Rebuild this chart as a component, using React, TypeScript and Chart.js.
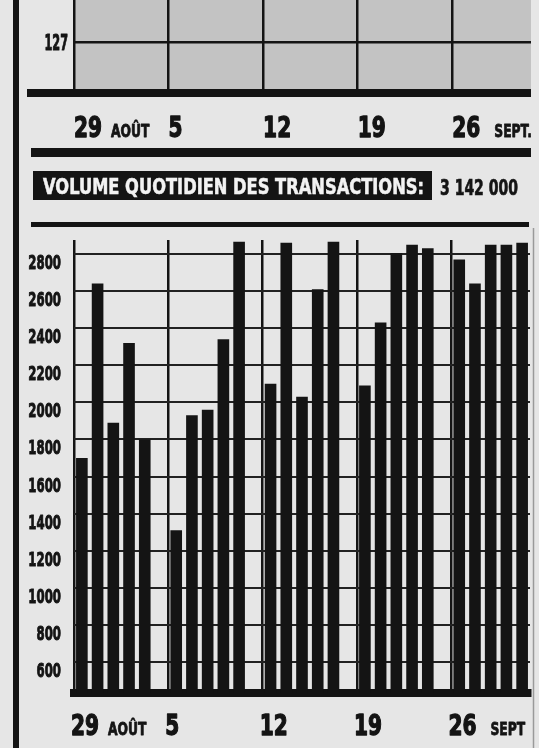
import React, { useEffect, useRef } from "react";
import { Chart, registerables } from "chart.js";

Chart.register(...registerables);

// ---- data ----
const weekStartDays = ["29", "5", "12", "19", "26"];
const firstMonth = "AOÛT";
const lastMonthTop = "SEPT.";
const lastMonthBottom = "SEPT";
const indexTicks = [127];
const volumeTicks = [600, 800, 1000, 1200, 1400, 1600, 1800, 2000, 2200, 2400, 2600, 2800];
const weekOfAug29 = [1700, 2640, 1890, 2320, 1800];
const weekOfSep5 = [1310, 1930, 1960, 2340, 2865];
const weekOfSep12 = [2100, 2860, 2030, 2610, 2865];
const weekOfSep19 = [2090, 2430, 2805, 2850, 2830];
const weekOfSep26 = [2770, 2640, 2850, 2850, 2860];
const weeks = [weekOfAug29, weekOfSep5, weekOfSep12, weekOfSep19, weekOfSep26];
const titleText = "VOLUME QUOTIDIEN DES TRANSACTIONS:";
const dailyVolumeText = "3 142 000";

// ---- helpers ----
const SLOTS_PER_WEEK = 6; // 5 trading days + weekend gap
const FONT = '"DejaVu Sans", "Liberation Sans", sans-serif';
const INK = "#141414";
const PAGE = "#e6e6e6";
const PANEL = "#c3c3c3";

const weekBoundaries = () => weeks.map((_, i) => i * SLOTS_PER_WEEK - 0.5);
const xMax = (weeks.length - 1) * SLOTS_PER_WEEK + 4.5;

function drawCondensed(ctx: CanvasRenderingContext2D, text: string, x: number, baseline: number, capPx: number, sx: number, align: "left" | "right", heavy = 0.9) {
  const size = capPx / 0.729;
  ctx.save();
  ctx.font = `bold ${size}px ${FONT}`;
  const w = ctx.measureText(text).width * sx;
  ctx.translate(align === "right" ? x - w : x, baseline);
  ctx.scale(sx, 1);
  ctx.fillStyle = INK;
  ctx.strokeStyle = INK;
  ctx.lineWidth = heavy;
  ctx.lineJoin = "round";
  ctx.textAlign = "left";
  ctx.textBaseline = "alphabetic";
  ctx.fillText(text, 0, 0);
  if (heavy > 0) ctx.strokeText(text, 0, 0);
  ctx.restore();
  return w;
}

function dateLabelsPlugin(lastMonth: string, dy: number, dx: number) {
  return {
    id: "dateLabels",
    afterDraw(chart: any) {
      const ctx = chart.ctx;
      const xs = chart.scales.x;
      const base = chart.chartArea.bottom + dy;
      weekStartDays.forEach((d, i) => {
        const x0 = xs.getPixelForValue(i * SLOTS_PER_WEEK - 0.5) + dx;
        const w = drawCondensed(ctx, d, x0, base, 21, 0.7, "left", 1.4);
        if (i === 0) drawCondensed(ctx, firstMonth, x0 + w + 9, base, 12.5, 0.72, "left", 0.8);
        if (i === weekStartDays.length - 1) drawCondensed(ctx, lastMonth, x0 + w + 14, base, 12.5, 0.72, "left", 0.8);
      });
    },
  };
}

function xScale(border: any) {
  return {
    type: "linear",
    min: -0.5,
    max: xMax,
    offset: false,
    afterBuildTicks: (s: any) => {
      s.ticks = weekBoundaries().map((v) => ({ value: v }));
    },
    afterFit: (s: any) => {
      s.height = 0;
    },
    ticks: { display: false },
    grid: { color: INK, lineWidth: 2.5, drawTicks: false, offset: false },
    border,
  };
}

export default function App() {
  const topRef = useRef<HTMLCanvasElement>(null);
  const botRef = useRef<HTMLCanvasElement>(null);

  useEffect(() => {
    const topChart = new Chart(topRef.current as HTMLCanvasElement, {
      type: "bar",
      data: { datasets: [] },
      options: {
        animation: false,
        responsive: false,
        layout: { padding: { top: 0, right: 8, bottom: 57, left: 0 } },
        plugins: { legend: { display: false }, tooltip: { enabled: false } },
        scales: {
          x: xScale({ display: false }) as any,
          y: {
            type: "linear",
            min: 125,
            max: 128.65,
            afterBuildTicks: (s: any) => {
              s.ticks = indexTicks.map((v) => ({ value: v }));
            },
            afterFit: (s: any) => {
              s.width = 74;
            },
            ticks: { display: false },
            grid: { color: INK, lineWidth: 2.5, drawTicks: false },
            border: { display: false },
          } as any,
        },
      },
      plugins: [
        {
          id: "panel",
          beforeDraw(chart: any) {
            const { ctx, chartArea: a } = chart;
            ctx.save();
            ctx.fillStyle = PANEL;
            ctx.fillRect(a.left, a.top, a.right - a.left, a.bottom - a.top);
            ctx.restore();
          },
          afterDraw(chart: any) {
            const { ctx, chartArea: a } = chart;
            ctx.save();
            ctx.fillStyle = INK;
            ctx.fillRect(27, a.bottom - 4, a.right - 27, 8);
            ctx.restore();
            const ys = chart.scales.y;
            indexTicks.forEach((v) => {
              const y = ys.getPixelForValue(v);
              drawCondensed(ctx, String(v), a.left - 6, y + 7.5, 15, 0.55, "right", 1);
            });
          },
        },
        dateLabelsPlugin(lastMonthTop, 44, 0),
      ],
    });

    const points: { x: number; y: number }[] = [];
    weeks.forEach((wk, wi) => wk.forEach((v, di) => points.push({ x: wi * SLOTS_PER_WEEK + di, y: v })));

    const botChart = new Chart(botRef.current as HTMLCanvasElement, {
      type: "bar",
      data: {
        datasets: [
          {
            data: points as any,
            backgroundColor: INK,
            borderWidth: 0,
            categoryPercentage: 1,
            barPercentage: 0.74,
          },
        ],
      },
      options: {
        animation: false,
        responsive: false,
        layout: { padding: { top: 12, right: 9, bottom: 55, left: 0 } },
        plugins: { legend: { display: false }, tooltip: { enabled: false } },
        scales: {
          x: xScale({ display: true, color: INK, width: 8 }) as any,
          y: {
            type: "linear",
            min: 433,
            max: 2875,
            afterBuildTicks: (s: any) => {
              s.ticks = volumeTicks.map((v) => ({ value: v }));
            },
            afterFit: (s: any) => {
              s.width = 74;
            },
            ticks: { display: false },
            grid: { color: "#222", lineWidth: 2, drawTicks: false },
            border: { display: false },
          } as any,
        },
      },
      plugins: [
        {
          id: "volumeLabels",
          afterDraw(chart: any) {
            const ctx = chart.ctx;
            const ys = chart.scales.y;
            volumeTicks.forEach((v) => {
              const y = ys.getPixelForValue(v);
              drawCondensed(ctx, String(v), chart.chartArea.left - 13, y + 15, 14.5, 0.59, "right", 1);
            });
          },
        },
        dateLabelsPlugin(lastMonthBottom, 42, -3),
      ],
    });

    return () => {
      topChart.destroy();
      botChart.destroy();
    };
  }, []);

  return (
    <div style={{ position: "fixed", left: 0, top: 0, width: 539, height: 748, background: PAGE, overflow: "hidden" }}>
      <canvas ref={topRef} width={539} height={150} style={{ position: "absolute", left: 0, top: 0, width: 539, height: 150 }} />
      <canvas ref={botRef} width={539} height={520} style={{ position: "absolute", left: 0, top: 228, width: 539, height: 520 }} />
      <svg width={539} height={748} style={{ position: "absolute", left: 0, top: 0, pointerEvents: "none" }}>
        <rect x={13} y={0} width={6} height={748} fill={INK} />
        <rect x={31} y={148} width={500} height={9} fill={INK} />
        <rect x={33} y={171} width={399} height={29} fill={INK} />
        <text x={43} y={193.5} fill="#f2f2f2" stroke="#f2f2f2" strokeWidth={0.6} fontFamily={FONT} fontWeight="bold" fontSize={22} textLength={381} lengthAdjust="spacingAndGlyphs">
          {titleText}
        </text>
        <text x={440} y={195} fill={INK} stroke={INK} strokeWidth={0.7} fontFamily={FONT} fontWeight="bold" fontSize={20.5} textLength={78} lengthAdjust="spacingAndGlyphs">
          {dailyVolumeText}
        </text>
        <rect x={31} y={222} width={498} height={5} fill={INK} />
        <line x1={533.5} y1={228} x2={533.5} y2={748} stroke="#9a9a9a" strokeWidth={1.5} />
      </svg>
    </div>
  );
}
